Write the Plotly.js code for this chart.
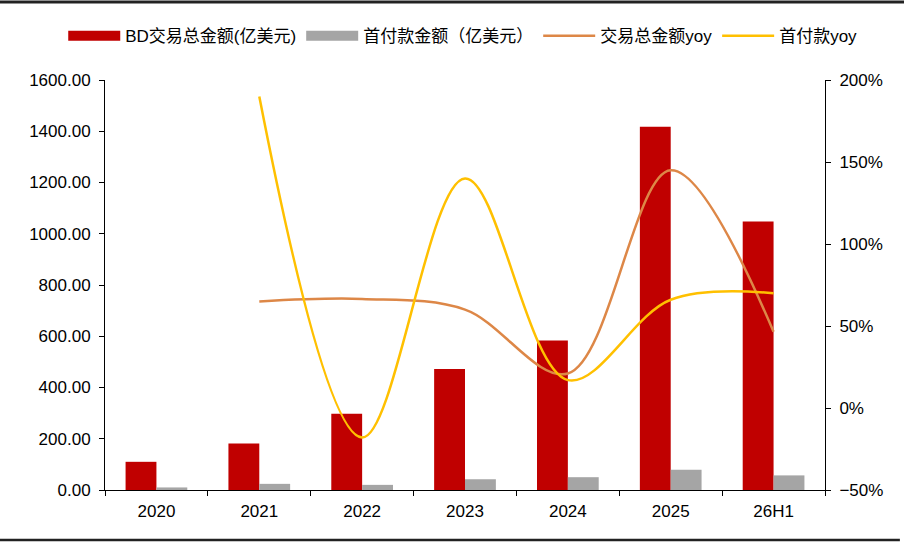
<!DOCTYPE html>
<html>
<head>
<meta charset="utf-8">
<script src="https://cdn.plot.ly/plotly-3.0.1.min.js"></script>
<style>
  html, body { margin: 0; padding: 0; background: #fff; }
  #chart { width: 904px; height: 547px; }
</style>
</head>
<body>
<div id="chart"></div>
<script>
// chart values
var categories = ['2020', '2021', '2022', '2023', '2024', '2025', '26H1'];
var bdTotal = [110, 181, 298, 472, 583, 1418, 1048];     // 亿美元
var upfront = [10, 24, 20, 42, 50, 79, 57];              // 亿美元
var totalYoy = [null, 65, 66.5, 60, 21, 145, 46.5];      // %
var upfrontYoy = [null, 190, -18, 140, 17, 66, 70];      // %

var redColor = '#C00000';
var grayColor = '#A5A5A5';
var fontFamily = 'Liberation Sans, Arial, Noto Sans CJK SC, sans-serif';

var traceBd =
{
    x: categories,
    y: bdTotal,
    type: 'bar',
    name: 'BD交易总金额(亿美元)',
    showlegend: false,
    marker: {color: redColor}
};
var traceUp =
{
    x: categories,
    y: upfront,
    type: 'bar',
    name: '首付款金额（亿美元）',
    showlegend: false,
    marker: {color: grayColor}
};
// legend-only entries so the bar swatches come out as wide blocks
var legendBd =
{
    x: [null],
    y: [null],
    type: 'scatter',
    mode: 'lines',
    name: 'BD交易总金额(亿美元)',
    legendrank: 1,
    line: {color: redColor, width: 10}
};
var legendUp =
{
    x: [null],
    y: [null],
    type: 'scatter',
    mode: 'lines',
    name: '首付款金额（亿美元）',
    legendrank: 2,
    line: {color: grayColor, width: 10}
};
var traceTotalYoy =
{
    x: categories,
    y: totalYoy,
    type: 'scatter',
    mode: 'lines',
    yaxis: 'y2',
    name: '交易总金额yoy',
    legendrank: 3,
    line: {color: '#DD8747', width: 2.5, shape: 'spline', smoothing: 1}
};
var traceUpYoy =
{
    x: categories,
    y: upfrontYoy,
    type: 'scatter',
    mode: 'lines',
    yaxis: 'y2',
    name: '首付款yoy',
    legendrank: 4,
    line: {color: '#FFC000', width: 2.5, shape: 'spline', smoothing: 1}
};

var layout =
{
    width: 904,
    height: 547,
    paper_bgcolor: '#fff',
    plot_bgcolor: '#fff',
    font: {family: fontFamily, size: 17, color: '#000'},
    barmode: 'group',
    bargap: 0.4,
    bargroupgap: 0,
    showlegend: true,
    legend:
    {
        orientation: 'h',
        x: -0.058,
        xanchor: 'left',
        y: 1.107,
        yanchor: 'middle',
        font: {family: fontFamily, size: 17, color: '#000'},
        itemwidth: 52,
        traceorder: 'normal'
    },
    xaxis:
    {
        type: 'category',
        showline: true,
        linecolor: '#000',
        linewidth: 1,
        ticks: 'outside',
        tickson: 'boundaries',
        ticklen: 5,
        tickcolor: '#000',
        ticklabelstandoff: 6,
        showgrid: false,
        zeroline: false,
        tickfont: {size: 17}
    },
    yaxis:
    {
        range: [0, 1600],
        dtick: 200,
        tickformat: '.2f',
        showline: true,
        linecolor: '#000',
        linewidth: 1,
        ticks: 'outside',
        ticklen: 5,
        tickcolor: '#000',
        ticklabelstandoff: 5,
        showgrid: false,
        zeroline: false,
        tickfont: {size: 17}
    },
    yaxis2:
    {
        overlaying: 'y',
        side: 'right',
        range: [-50, 200],
        dtick: 50,
        ticksuffix: '%',
        showline: true,
        linecolor: '#000',
        linewidth: 1,
        ticks: 'outside',
        ticklen: 5,
        tickcolor: '#000',
        ticklabelstandoff: 5,
        showgrid: false,
        zeroline: false,
        tickfont: {size: 17}
    },
    shapes:
    [
        {type: 'line', xref: 'paper', yref: 'paper', x0: -0.146, x1: 1.11, y0: 1.19, y1: 1.19,
         line: {color: '#222', width: 3}},
        {type: 'line', xref: 'paper', yref: 'paper', x0: -0.146, x1: 1.104, y0: -0.122, y1: -0.122,
         line: {color: '#222', width: 2.5}}
    ],
    margin: {l: 105, r: 79, t: 80, b: 57}
};

Plotly.newPlot('chart', [traceBd, traceUp, legendBd, legendUp, traceTotalYoy, traceUpYoy], layout,
    {displayModeBar: false, staticPlot: true});
</script>
</body>
</html>
